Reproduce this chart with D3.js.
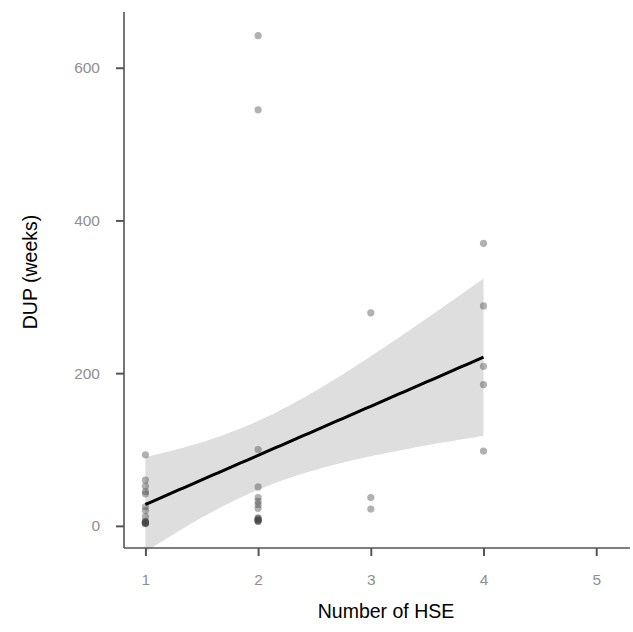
<!DOCTYPE html>
<html>
<head>
<meta charset="utf-8">
<script src="https://cdn.jsdelivr.net/npm/d3@7"></script>
<style>
  body { margin: 0; background: #fff; }
  text { font-family: "Liberation Sans", Arial, sans-serif; }
</style>
</head>
<body>
<svg width="633" height="632"></svg>
<script>
// number of HSE (x) and DUP in weeks (y), one entry per patient
var hseCounts = [1, 1, 1, 1, 1, 1, 1, 1, 1, 1, 1, 1, 1, 1, 1,
                 2, 2, 2, 2, 2, 2, 2, 2, 2, 2, 2, 2, 2, 2, 2,
                 3, 3, 3,
                 4, 4, 4, 4, 4];
var dupWeeks = [93, 60, 52, 45, 42, 25, 20, 12, 5, 4, 3, 5, 4, 3, 6,
                100, 51, 37, 32, 28, 23, 10, 8, 6, 642, 545, 8, 6, 10, 7,
                279, 37, 22,
                370, 288, 209, 185, 98];
var xTicks = [1, 2, 3, 4, 5];
var yTicks = [0, 200, 400, 600];

var svg = d3.select("svg"),
    margin = { left: 124, right: 3, top: 12, bottom: 84 },
    width = +svg.attr("width"),
    height = +svg.attr("height");

var x = d3.scaleLinear().domain([0.81, 5.3]).range([margin.left, width - margin.right]);
var y = d3.scaleLinear().domain([-29, 673]).range([height - margin.bottom, margin.top]);

var data = hseCounts.map(function (h, i) { return { x: h, y: dupWeeks[i] }; });

// simple linear model + 95% confidence band
var n = data.length;
var mx = d3.mean(data, d => d.x), my = d3.mean(data, d => d.y);
var sxx = d3.sum(data, d => (d.x - mx) * (d.x - mx));
var sxy = d3.sum(data, d => (d.x - mx) * (d.y - my));
var slope = sxy / sxx, icpt = my - slope * mx;
var sse = d3.sum(data, d => Math.pow(d.y - (icpt + slope * d.x), 2));
var s = Math.sqrt(sse / (n - 2));
var df = n - 2, z = 1.959964;
var tq = z + (z * z * z + z) / (4 * df) + (5 * Math.pow(z, 5) + 16 * z * z * z + 3 * z) / (96 * df * df);

var fitX = d3.range(1, 4.0001, 0.05);
var band = fitX.map(function (xv) {
    var fit = icpt + slope * xv;
    var se = s * Math.sqrt(1 / n + (xv - mx) * (xv - mx) / sxx);
    return { x: xv, fit: fit, lo: fit - tq * se, hi: fit + tq * se };
});

var g = svg.append("g");

g.append("path")
    .datum(band)
    .attr("fill", "#dedede")
    .attr("d", d3.area().x(d => x(d.x)).y0(d => y(d.lo)).y1(d => y(d.hi)));

g.append("g").selectAll("circle")
    .data(data)
    .enter().append("circle")
    .attr("cx", d => x(d.x))
    .attr("cy", d => y(d.y))
    .attr("r", 3.6)
    .attr("fill", "#444")
    .attr("fill-opacity", 0.42);

g.append("path")
    .datum(band)
    .attr("fill", "none")
    .attr("stroke", "#000")
    .attr("stroke-width", 3)
    .attr("d", d3.line().x(d => x(d.x)).y(d => y(d.fit)));

// axes
var xAxis = svg.append("g")
    .attr("transform", "translate(0," + (height - margin.bottom) + ")")
    .call(d3.axisBottom(x).tickValues(xTicks).tickSize(8).tickPadding(18).tickFormat(d3.format("d")));
var yAxis = svg.append("g")
    .attr("transform", "translate(" + margin.left + ",0)")
    .call(d3.axisLeft(y).tickValues(yTicks).tickSize(8).tickPadding(16).tickFormat(d3.format("d")));

[xAxis, yAxis].forEach(function (a) {
    a.select(".domain").attr("stroke", "#555").attr("stroke-width", 1.6);
    a.selectAll(".tick line").attr("stroke", "#555").attr("stroke-width", 2);
    a.selectAll(".tick text").attr("fill", "#8f8f8f").attr("font-size", 15.5)
        .style("font-family", "'Liberation Sans', Arial, sans-serif");
});
// ggplot style: no outer tick caps on the domain
xAxis.select(".domain").attr("d", "M" + margin.left + ",0H" + (width - margin.right));
yAxis.select(".domain").attr("d", "M0," + margin.top + "V" + (height - margin.bottom));

svg.append("text")
    .attr("x", 386)
    .attr("y", 618)
    .attr("text-anchor", "middle")
    .attr("font-size", 19.5)
    .attr("fill", "#000")
    .text("Number of HSE");

svg.append("text")
    .attr("transform", "translate(37,272) rotate(-90)")
    .attr("text-anchor", "middle")
    .attr("font-size", 19.5)
    .attr("fill", "#000")
    .text("DUP (weeks)");
</script>
</body>
</html>
